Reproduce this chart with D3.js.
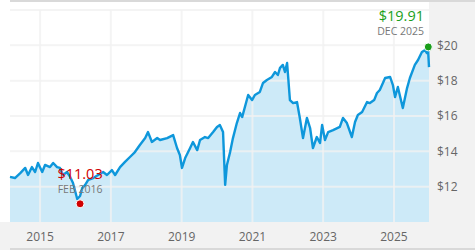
<html lang="en">
<head>
  <meta charset="UTF-8">
  <title>Price history</title>
  <script src="https://d3js.org/d3.v7.min.js"></script>
  <style>
    body { margin: 0; background: #fff; }
    text { font-family: "Open Sans", "Noto Sans", sans-serif; }
  </style>
</head>
<body>
  <svg id="chart"></svg>
  <script>
    // price series, years as decimals, values in $
    const years = [
      2014.15, 2014.29, 2014.44, 2014.58, 2014.66, 2014.77, 2014.86, 2014.94, 2015.06, 2015.14,
      2015.28, 2015.37, 2015.48, 2015.56, 2015.65, 2015.76, 2015.85, 2015.93, 2016.05, 2016.13,
      2016.19, 2016.27, 2016.36, 2016.50, 2016.64, 2016.78, 2016.89, 2017.03, 2017.12, 2017.26,
      2017.40, 2017.54, 2017.68, 2017.82, 2017.97, 2018.05, 2018.16, 2018.31, 2018.39, 2018.59,
      2018.76, 2018.87, 2018.95, 2019.01, 2019.10, 2019.24, 2019.32, 2019.44, 2019.52, 2019.66,
      2019.75, 2019.89, 2020.00, 2020.08, 2020.17, 2020.23, 2020.28, 2020.37, 2020.45, 2020.56,
      2020.65, 2020.71, 2020.88, 2020.99, 2021.07, 2021.21, 2021.30, 2021.41, 2021.55, 2021.64,
      2021.72, 2021.78, 2021.86, 2021.92, 2021.98, 2022.01, 2022.06, 2022.15, 2022.26, 2022.34,
      2022.43, 2022.54, 2022.63, 2022.71, 2022.82, 2022.91, 2022.97, 2023.05, 2023.14, 2023.28,
      2023.47, 2023.56, 2023.67, 2023.81, 2023.90, 2023.98, 2024.10, 2024.24, 2024.32, 2024.44,
      2024.52, 2024.60, 2024.75, 2024.89, 2024.97, 2025.03, 2025.11, 2025.25, 2025.37, 2025.45,
      2025.59, 2025.68, 2025.79, 2025.88, 2025.93, 2025.96, 2025.99
    ];
    const prices = [
      12.55, 12.49, 12.77, 13.06, 12.66, 13.11, 12.83, 13.34, 12.83, 13.23,
      13.11, 13.34, 13.11, 13.06, 12.66, 12.83, 12.55, 12.21, 11.30, 11.47,
      11.92, 12.09, 12.38, 12.49, 12.66, 12.83, 12.66, 12.94, 12.66, 13.11,
      13.40, 13.68, 13.96, 14.36, 14.75, 15.09, 14.53, 14.75, 14.64, 14.75,
      14.92, 14.19, 13.79, 13.06, 13.62, 14.19, 14.53, 14.07, 14.64, 14.81,
      14.75, 15.09, 15.38, 15.49, 15.09, 12.10, 13.23, 13.96, 14.75, 15.60,
      16.17, 15.94, 17.19, 16.90, 17.19, 17.36, 17.87, 18.04, 18.21, 18.49,
      18.32, 18.72, 18.89, 18.49, 19.00, 18.21, 16.90, 16.73, 16.79, 15.89,
      14.75, 15.89, 15.32, 14.19, 14.81, 14.47, 15.49, 14.64, 15.09, 15.20,
      15.38, 15.89, 15.60, 14.81, 15.66, 16.06, 16.23, 16.79, 16.73, 16.90,
      17.30, 17.47, 18.15, 18.21, 17.75, 17.07, 17.64, 16.45, 17.58, 18.15,
      18.89, 19.17, 19.62, 19.73, 19.56, 19.90, 18.77
    ];

    // high / low markers
    const markerYears = [2025.97, 2016.13];
    const markerValues = [19.91, 11.03];
    const markerPrices = ["$19.91", "$11.03"];
    const markerMonths = ["DEC 2025", "FEB 2016"];
    const markerColors = ["#1a9e1a", "#d00000"];

    const xTicks = [2015, 2017, 2019, 2021, 2023, 2025];
    const yGrid = [12, 14, 16, 18, 20, 22];
    const yTicks = [12, 14, 16, 18, 20];

    const width = 475;
    const height = 250;
    const plot = { left: 10, right: 429, top: 10, bottom: 222 };

    const svg = d3.select("#chart")
      .attr("width", width)
      .attr("height", height);

    const x = d3.scaleLinear().domain([2014.15, 2025.99]).range([plot.left, plot.right]);
    const y = d3.scaleLinear().domain([10, 22]).range([plot.bottom, plot.top]);

    const data = years.map((t, i) => ({ t, v: prices[i] }));

    // axis panels
    svg.append("rect").attr("x", plot.right).attr("y", 0)
      .attr("width", width - plot.right).attr("height", height).attr("fill", "#f2f2f2");
    svg.append("rect").attr("x", 0).attr("y", plot.bottom)
      .attr("width", width).attr("height", height - plot.bottom).attr("fill", "#f2f2f2");
    svg.append("rect").attr("x", plot.left).attr("y", 0)
      .attr("width", width - plot.left).attr("height", 2).attr("fill", "#d9d9d9");
    svg.append("rect").attr("x", plot.left).attr("y", height - 2)
      .attr("width", width - plot.left).attr("height", 2).attr("fill", "#d9d9d9");

    // area fill
    const area = d3.area()
      .x(d => x(d.t))
      .y0(plot.bottom)
      .y1(d => y(d.v));
    svg.append("path").datum(data)
      .attr("d", area)
      .attr("fill", "#cdeaf8");

    // grid
    const grid = svg.append("g")
      .attr("stroke", "#f1f1f1")
      .attr("stroke-opacity", 0.8)
      .attr("stroke-width", 2);
    grid.selectAll("line.h")
      .data(yGrid)
      .enter()
      .append("line")
      .attr("x1", plot.left).attr("x2", plot.right)
      .attr("y1", d => y(d)).attr("y2", d => y(d));
    grid.selectAll("line.v")
      .data(xTicks)
      .enter()
      .append("line")
      .attr("x1", d => x(d)).attr("x2", d => x(d))
      .attr("y1", plot.top).attr("y2", plot.bottom);

    // price line
    const line = d3.line()
      .x(d => x(d.t))
      .y(d => y(d.v));
    svg.append("path").datum(data)
      .attr("d", line)
      .attr("fill", "none")
      .attr("stroke", "#0e97db")
      .attr("stroke-width", 2.4)
      .attr("stroke-linejoin", "round");

    // axis labels
    svg.selectAll("text.xl")
      .data(xTicks)
      .enter()
      .append("text")
      .attr("x", d => x(d))
      .attr("y", 241)
      .attr("text-anchor", "middle")
      .attr("font-size", 12)
      .attr("fill", "#666")
      .text(d => d);

    svg.selectAll("text.yl")
      .data(yTicks)
      .enter()
      .append("text")
      .attr("x", 437)
      .attr("y", d => y(d))
      .attr("dy", "0.35em")
      .attr("font-size", 12)
      .attr("fill", "#666")
      .text(d => "$" + d);

    // markers
    markerYears.forEach((t, i) => {
      const cx = x(t);
      const cy = y(markerValues[i]);
      const hi = i === 0;
      const tx = hi ? plot.right - 5 : cx;
      const anchor = hi ? "end" : "middle";
      const base = hi ? 21 : cy - 25;

      svg.append("text")
        .attr("x", tx).attr("y", base)
        .attr("text-anchor", anchor)
        .attr("font-size", 14.5)
        .attr("fill", markerColors[i])
        .text(markerPrices[i]);
      svg.append("text")
        .attr("x", tx).attr("y", base + 14)
        .attr("text-anchor", anchor)
        .attr("font-size", 10.5)
        .attr("fill", "#777")
        .text(markerMonths[i]);
      svg.append("circle")
        .attr("cx", cx).attr("cy", cy).attr("r", 4)
        .attr("fill", markerColors[i])
        .attr("stroke", "#fff")
        .attr("stroke-width", 1);
    });
  </script>
</body>
</html>
